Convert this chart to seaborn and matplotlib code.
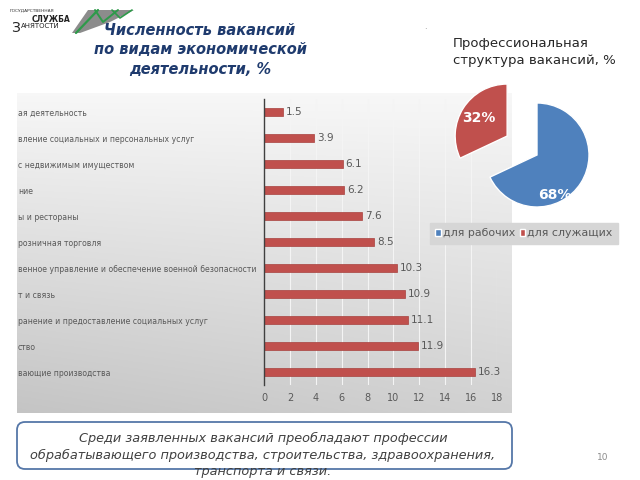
import matplotlib.pyplot as plt
import matplotlib.patches as mpatches
import numpy as np
import pandas as pd
import seaborn as sns

# data (category names are cut at the panel edge on the slide)
industries = [
    "ая деятельность",
    "вление социальных и персональных услуг",
    "с недвижимым имуществом",
    "ние",
    "ы и рестораны",
    "розничная торговля",
    "венное управление и обеспечение военной безопасности",
    "т и связь",
    "ранение и предоставление социальных услуг",
    "ство",
    "вающие производства",
]
shares = [1.5, 3.9, 6.1, 6.2, 7.6, 8.5, 10.3, 10.9, 11.1, 11.9, 16.3]
x_ticks = [0, 2, 4, 6, 8, 10, 12, 14, 16, 18]

pie_labels = ["для рабочих", "для служащих"]
pie_values = [68, 32]

title_left = "Численность вакансий\nпо видам экономической\nдеятельности, %"
title_right = "Профессиональная\nструктура вакансий, %"
note = ("Среди заявленных вакансий преобладают профессии\n"
        "обрабатывающего производства, строительства, здравоохранения,\n"
        "транспорта и связи.")

W, H = 640, 480


def rect(x0, y0, x1, y1):
    # pixel box (origin top-left) -> figure fraction rect
    return [x0 / W, 1 - y1 / H, (x1 - x0) / W, (y1 - y0) / H]


sns.set_theme(style="white")
plt.rcParams["font.family"] = ["DejaVu Sans"]

fig = plt.figure(figsize=(6.4, 4.8), dpi=100)

# full-figure canvas in pixel coords for the slide decoration
canvas = fig.add_axes([0, 0, 1, 1])
canvas.set_zorder(-1)
canvas.axis("off")

v = np.linspace(0, 1, 200)[:, None]
h = np.linspace(0, 1, 200)[None, :]
val = 0.97 - v * (0.15 + 0.05 * (1 - h))
grad = np.dstack([val, val, val])
canvas.imshow(grad, extent=(17, 512, 413, 93), aspect="auto", zorder=0)
canvas.set_xlim(0, W)
canvas.set_ylim(H, 0)

# logo
canvas.add_patch(mpatches.Polygon([[72, 33], [88, 10], [134, 10], [110, 22], [80, 33]],
                                  closed=True, facecolor="#8c8c8c", edgecolor="none"))
canvas.plot([76, 98], [33, 10], color="#2e9a4a", lw=1.6)
canvas.plot([95, 103, 118], [10, 22, 10], color="#2e9a4a", lw=1.4)
canvas.plot([112, 120, 132], [10, 18, 10], color="#2e9a4a", lw=1.2)
canvas.text(10, 10, "ГОСУДАРСТВЕННАЯ", fontsize=3.2, color="#333333", va="center")
canvas.text(32, 19, "СЛУЖБА", fontsize=5.5, color="#222222", weight="bold", va="center")
canvas.text(11, 28, "З", fontsize=10, color="#222222", va="center")
canvas.text(21, 26, "АНЯТОСТИ", fontsize=5, color="#222222", va="center")
canvas.text(425, 29, ".", fontsize=6, color="#888888", ha="center")

canvas.text(200, 50, title_left, ha="center", va="center", fontsize=10.5,
            style="italic", weight="bold", color="#1f3b6e", linespacing=1.35)
canvas.text(453, 52, title_right, ha="left", va="center", fontsize=9.5,
            color="#262626", linespacing=1.35)

# note box at the bottom
canvas.add_patch(mpatches.FancyBboxPatch((17, 422), 495, 47,
                                         boxstyle="round,pad=0,rounding_size=8",
                                         facecolor="white", edgecolor="#5577a8", lw=1.3))
canvas.text(263, 455, note, ha="center", va="center", fontsize=9.3, style="italic",
            color="#404040", linespacing=1.3, zorder=5)
canvas.text(597, 458, "10", fontsize=6.5, color="#8c8c8c", va="center")

# bar chart
df = pd.DataFrame({"industry": industries, "share": shares})
ax = fig.add_axes(rect(264, 99, 497, 385))
ax.set_facecolor("none")
sns.barplot(data=df, x="share", y="industry", orient="h", color="#c0504d",
            saturation=1, width=0.32, edgecolor="#a8413e", linewidth=0.5, ax=ax)
ax.set_xlim(0, 18)
ax.set_xticks(x_ticks)
ax.set_xlabel("")
ax.set_ylabel("")
ax.grid(axis="x", color="#f4f4f4", lw=0.8)
ax.set_axisbelow(True)
for s in ["top", "right", "bottom"]:
    ax.spines[s].set_visible(False)
ax.spines["left"].set_color("#404040")
ax.spines["left"].set_linewidth(1.0)
ax.bar_label(ax.containers[0], fmt="%.1f", padding=2, fontsize=7.5, color="#595959")
ax.tick_params(axis="x", length=0, pad=6, labelsize=7, labelcolor="#595959")
# labels start right at the panel's left edge
ax.tick_params(axis="y", length=0, pad=(264 - 18) * 0.72, labelsize=5.6, labelcolor="#595959")
for lbl in ax.get_yticklabels():
    lbl.set_ha("left")

# pie
pax = fig.add_axes(rect(537 - 104, 155 - 104, 537 + 104, 155 + 104))
pax.set_zorder(2)
wedges, _, autotexts = pax.pie(pie_values, colors=["#4f81bd", "#c0504d"], startangle=90,
                               counterclock=False, explode=[0, 0.68], autopct="%d%%",
                               pctdistance=0.65,
                               textprops=dict(color="white", fontsize=10, weight="bold"))
autotexts[0].set_position((0.35, -0.77))
pax.set_xlim(-2, 2)
pax.set_ylim(-2, 2)
pax.set_aspect("equal")
pax.axis("off")

leg = fig.legend(wedges, pie_labels, loc="upper left", bbox_to_anchor=(430 / W, 1 - 223 / H),
                 ncol=2, frameon=True, fancybox=False, facecolor="#d6d6d6", edgecolor="#d6d6d6",
                 fontsize=7.9, labelcolor="#595959", handlelength=0.5, handleheight=0.5,
                 handletextpad=0.2, columnspacing=0.4, borderpad=0.5, borderaxespad=0)
leg.get_frame().set_alpha(1)

fig.savefig("out.png", dpi=100)
